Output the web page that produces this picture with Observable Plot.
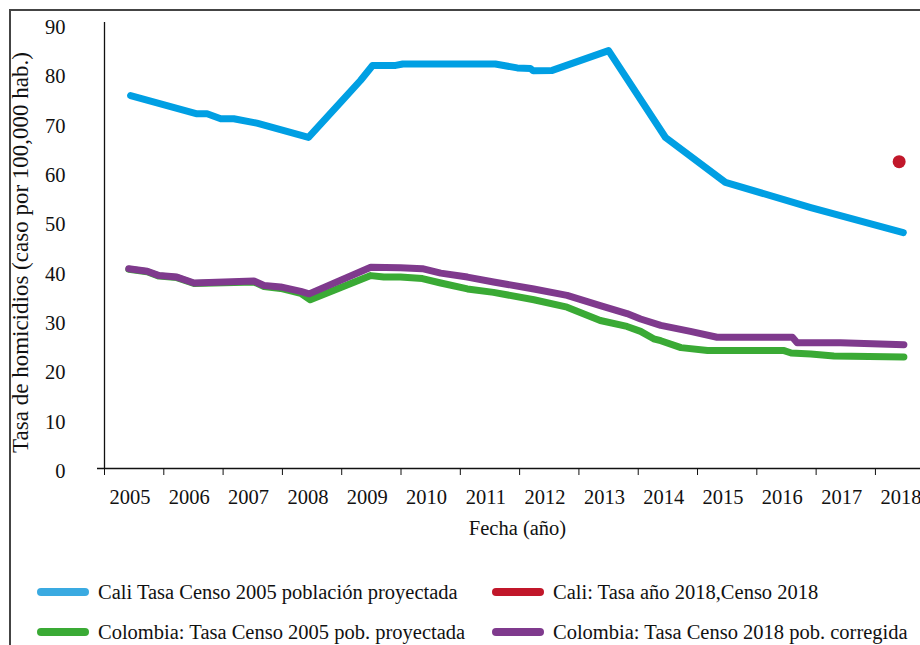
<!DOCTYPE html>
<html>
<head>
<meta charset="utf-8">
<script src="https://cdn.jsdelivr.net/npm/d3@7"></script>
<script src="https://cdn.jsdelivr.net/npm/@observablehq/plot@0.6"></script>
<style>
  html, body { margin: 0; padding: 0; background: #fff; }
  #wrap { position: relative; width: 920px; height: 645px; overflow: hidden; font-family: "Liberation Serif", "DejaVu Serif", serif; background: #fff; }
  .fl { position: absolute; background: #444; z-index: 5; }
  #chart { position: absolute; left: 0; top: 0; z-index: 1; }
  #legend { position: absolute; left: 0; top: 0; width: 920px; height: 645px; pointer-events: none; z-index: 2; }
  .item { position: absolute; display: flex; align-items: center; font-size: 20.5px; color: #111; white-space: nowrap; }
  .sw { width: 52px; height: 8px; border-radius: 4px; margin-right: 9px; }
</style>
</head>
<body>
<div id="wrap">
  <div id="chart"></div>
  <div id="legend"></div>
  <div class="fl" style="left:9px; top:9px; width:911px; height:2px;"></div>
  <div class="fl" style="left:9px; top:9px; width:2px; height:636px;"></div>
</div>
<script>
// Year categories (x axis)
const years = [2005, 2006, 2007, 2008, 2009, 2010, 2011, 2012, 2013, 2014, 2015, 2016, 2017, 2018];
const yTicks = [0, 10, 20, 30, 40, 50, 60, 70, 80, 90];

// Cali: Tasa Censo 2005 población proyectada
const caliT = [2005.44, 2006.56, 2006.73, 2006.96, 2007.18, 2007.57, 2008.44, 2008.98, 2009.32, 2009.52, 2009.91, 2010.03, 2011.59, 2011.96, 2012.18, 2012.23, 2012.55, 2013.50, 2014.46, 2015.47, 2016.91, 2018.47];
const caliV = [75.6, 71.9, 71.9, 70.9, 70.9, 70.0, 67.1, 74.2, 78.7, 81.7, 81.7, 82.0, 82.0, 81.2, 81.1, 80.6, 80.7, 84.7, 67.1, 58.0, 52.9, 47.8];

// Cali: Tasa año 2018, Censo 2018
const cali2018T = [2018.40];
const cali2018V = [62.2];

// Colombia: Tasa Censo 2018 pob. corregida (purple)
const colCorrT = [2005.41, 2005.72, 2005.92, 2006.22, 2006.51, 2007.52, 2007.69, 2007.97, 2008.31, 2008.45, 2009.49, 2009.99, 2010.36, 2010.67, 2011.12, 2011.56, 2012.24, 2012.80, 2013.36, 2013.81, 2014.04, 2014.38, 2014.88, 2015.33, 2016.60, 2016.68, 2017.41, 2018.48];
const colCorrV = [40.5, 40.0, 39.1, 38.8, 37.6, 38.0, 37.1, 36.8, 35.9, 35.4, 40.8, 40.7, 40.5, 39.6, 38.8, 37.8, 36.4, 35.1, 33.0, 31.4, 30.3, 29.0, 27.8, 26.6, 26.6, 25.5, 25.5, 25.1];

// Colombia: Tasa Censo 2005 pob. proyectada (green)
const colProyT = [2005.41, 2005.72, 2005.92, 2006.22, 2006.51, 2007.52, 2007.69, 2007.97, 2008.31, 2008.47, 2009.49, 2009.71, 2009.99, 2010.36, 2010.67, 2011.12, 2011.56, 2012.24, 2012.80, 2013.36, 2013.81, 2014.04, 2014.26, 2014.38, 2014.72, 2015.17, 2015.61, 2016.46, 2016.58, 2016.91, 2017.30, 2018.48];
const colProyV = [40.4, 39.9, 39.0, 38.7, 37.5, 37.8, 36.9, 36.5, 35.5, 34.2, 39.1, 38.8, 38.8, 38.5, 37.6, 36.4, 35.7, 34.2, 32.7, 30.0, 28.8, 27.8, 26.3, 25.9, 24.5, 23.9, 23.9, 23.9, 23.4, 23.2, 22.8, 22.6];

const yTitle = "Tasa de homicidios (caso por 100,000 hab.)";
const xTitle = "Fecha (año)";

const C_BLUE = "#009FE3", C_RED = "#C1172A", C_GREEN = "#3AAA35", C_PURPLE = "#7F3A8D";

const mk = (T, V) => T.map((t, i) => ({t, v: V[i]}));
const cali = mk(caliT, caliV);
const cali2018 = mk(cali2018T, cali2018V);
const colCorr = mk(colCorrT, colCorrV);
const colProy = mk(colProyT, colProyV);

const font = "Liberation Serif, DejaVu Serif, serif";

const plot = Plot.plot({
  width: 920,
  height: 560,
  marginLeft: 104,
  marginRight: 0,
  marginTop: 24,
  marginBottom: 92,
  style: {fontFamily: font, fontSize: "20.5px", color: "#111", background: "transparent"},
  x: {domain: [2005, 2018.76]},
  y: {domain: [0, 90]},
  marks: [
    Plot.axisY(yTicks, {tickSize: 0, tickPadding: 39, label: null, fontSize: 20.5, dy: 3}),
    Plot.axisX(years, {tickSize: 7, tickFormat: () => "", label: null}),
    Plot.axisX(years.map(y => y + 0.43), {tickSize: 0, tickPadding: 21, tickFormat: d => String(Math.floor(d)), label: null, fontSize: 20.5}),
    Plot.ruleY([0], {stroke: "#111", strokeWidth: 1.3, insetLeft: -7}),
    Plot.ruleX([2005], {stroke: "#111", strokeWidth: 1.3, insetTop: -2}),
    Plot.line(colProy, {x: "t", y: "v", stroke: C_GREEN, strokeWidth: 7, strokeLinecap: "round", strokeLinejoin: "round"}),
    Plot.line(colCorr, {x: "t", y: "v", stroke: C_PURPLE, strokeWidth: 7, strokeLinecap: "round", strokeLinejoin: "round"}),
    Plot.line(cali, {x: "t", y: "v", stroke: C_BLUE, strokeWidth: 7, strokeLinecap: "round", strokeLinejoin: "round"}),
    Plot.dot(cali2018, {x: "t", y: "v", r: 6.5, fill: C_RED, stroke: null}),
    Plot.text([xTitle], {frameAnchor: "bottom", dy: 66, dx: 5, fontSize: 20.5, fill: "#111"}),
    Plot.text([yTitle], {frameAnchor: "left", dx: -84, dy: 6, rotate: -90, textAnchor: "middle", fontSize: 23, fill: "#111"})
  ]
});
document.getElementById("chart").appendChild(plot);

const legendItems = [
  {label: "Cali Tasa Censo 2005 población proyectada", color: "#3AAAE1", left: 37, top: 592},
  {label: "Cali: Tasa año 2018,Censo 2018", color: C_RED, left: 492, top: 592},
  {label: "Colombia: Tasa Censo 2005 pob. proyectada", color: C_GREEN, left: 37, top: 632},
  {label: "Colombia: Tasa Censo 2018 pob. corregida", color: C_PURPLE, left: 492, top: 632}
];
const lg = document.getElementById("legend");
for (const it of legendItems) {
  const d = document.createElement("div");
  d.className = "item";
  d.style.left = it.left + "px";
  d.style.top = (it.top - 12) + "px";
  d.style.height = "24px";
  d.innerHTML = `<span class="sw" style="background:${it.color}"></span><span>${it.label}</span>`;
  lg.appendChild(d);
}
</script>
</body>
</html>
